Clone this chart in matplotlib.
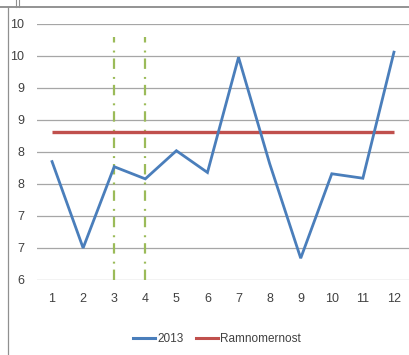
import matplotlib
matplotlib.use("Agg")
import matplotlib.pyplot as plt
from matplotlib.lines import Line2D
import numpy as np

plt.rcParams['font.family'] = ['Liberation Sans Narrow', 'Liberation Sans', 'DejaVu Sans']
plt.rcParams['lines.scale_dashes'] = False

months = [1, 2, 3, 4, 5, 6, 7, 8, 9, 10, 11, 12]
values_2013 = [7.85, 6.5, 7.77, 7.58, 8.02, 7.68, 9.48, 7.82, 6.34, 7.66, 7.59, 9.56]
ramnomernost = [8.32] * 12
marker_months = [3, 4]
marker_top = 9.8
y_ticks = [6, 6.5, 7, 7.5, 8, 8.5, 9, 9.5, 10]
y_tick_labels = ['6', '7', '7', '8', '8', '9', '9', '10', '10']
x_tick_labels = [str(m) for m in months]

fig = plt.figure(figsize=(4.09, 3.55), dpi=100)
ax = fig.add_axes([36.5 / 409, 75 / 355, 373 / 409, 256 / 355])

ax.set_xlim(0.5, 12.5)
ax.set_ylim(6, 10)
ax.set_yticks(y_ticks)
ax.set_yticklabels(y_tick_labels)
ax.set_xticks(months)
ax.set_xticklabels(x_tick_labels)
ax.tick_params(length=0, labelsize=9, colors='#404040')
ax.tick_params(axis='y', pad=9)
ax.tick_params(axis='x', pad=9)
for s in ax.spines.values():
    s.set_visible(False)
ax.grid(axis='y', color='#A6A6A6', linewidth=0.9)
ax.set_axisbelow(True)

for m in marker_months:
    ax.plot([m, m], [6, marker_top], color='#9BBB59', linewidth=1.6,
            linestyle=(0, (7.5, 4.3, 1.4, 5.8)), zorder=2)

ax.plot(months, ramnomernost, color='#C0504D', linewidth=2.4, zorder=3,
        solid_capstyle='butt')
ax.plot(months, values_2013, color='#4A7EBB', linewidth=2.0, zorder=4,
        solid_joinstyle='miter')

handles = [Line2D([], [], color='#4A7EBB', linewidth=2.2),
           Line2D([], [], color='#C0504D', linewidth=2.2)]
fig.legend(handles, ['2013', 'Ramnomernost'], loc='center',
           bbox_to_anchor=(217 / 409, 1 - 339 / 355), ncol=2, frameon=False,
           fontsize=8.5, handlelength=1.9, handletextpad=0.2, columnspacing=1.0,
           labelcolor='#404040')

# frame artifacts of the surrounding sheet
fig.add_artist(Line2D([0, 1], [1 - 7 / 355, 1 - 7 / 355], color='#808080', linewidth=1.2,
                      transform=fig.transFigure))
fig.add_artist(Line2D([8 / 409, 8 / 409], [0, 1 - 7 / 355], color='#909090', linewidth=0.9,
                      transform=fig.transFigure))
for xp in (16, 18.5):
    fig.add_artist(Line2D([xp / 409, xp / 409], [1 - 7 / 355, 1], color='#909090',
                          linewidth=0.8, transform=fig.transFigure))

fig.savefig('out.png', dpi=100)
